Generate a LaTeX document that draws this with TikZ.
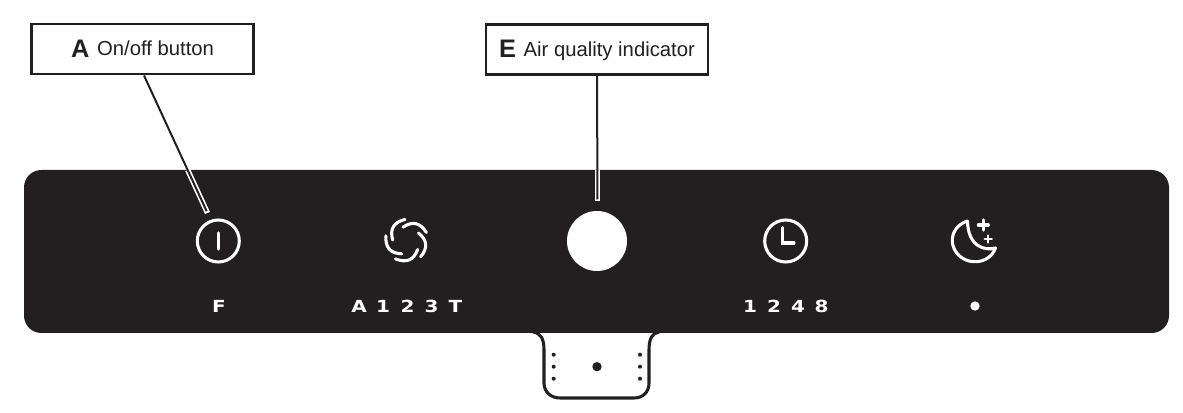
\documentclass[tikz,border=0pt]{standalone}
\usepackage{fontspec}
\setmainfont{Liberation Sans}
\newfontfamily\panelfont[FakeStretch=1.2]{DejaVu Sans}
\usetikzlibrary{positioning}
\definecolor{panelblack}{HTML}{231F20}
\newcommand{\calloutkey}[1]{\raisebox{-1.2pt}{\fontsize{19}{20}\selectfont\bfseries #1}\hspace{1.5pt}}

\begin{document}
\begin{tikzpicture}[x=.75pt,y=-.75pt,
	panel/.style={fill=panelblack,rounded corners=13pt},
	callout/.style={draw=panelblack,fill=white,line width=1.9pt,minimum width=166.5pt,minimum height=37.5pt,inner sep=0pt,text height=14pt,text depth=3.8pt,font=\fontsize{15.2}{18}\selectfont,text=panelblack},
	leader/.style={draw=panelblack,line width=1.5pt,shorten >=1.5pt},
	halo/.style={draw=white,line width=4pt},
	icon/.style={draw=white,line width=2.3pt,line cap=round},
	ring/.style={draw=white,line width=2.3pt,circle,minimum size=31.5pt,inner sep=0pt},
	setting/.style={text=white,font=\panelfont\bfseries\fontsize{12.5}{14}\selectfont,inner sep=0pt},
	tabdot/.style={fill=panelblack,circle,inner sep=0pt,minimum size=3pt}]

\useasboundingbox (0,0) rectangle (1183,413);

%-------------------------------------------------------------------------------
% Panel
%-------------------------------------------------------------------------------
\draw [panelblack,line width=2.3pt,fill=white] (533,332) .. controls (541,333) and (544,339) .. (544,350)
	-- (544,383) .. controls (544,392) and (551,398) .. (560,398)
	-- (634,398) .. controls (643,398) and (649,392) .. (649,383)
	-- (649,350) .. controls (649,339) and (652,333) .. (659,332);
\path [panel] (24,170) rectangle (1169,333);

\node (tabl1) [tabdot] at (553.7,354.7) {};
\node (tabl2) [tabdot] at (553.7,366.7) {};
\node (tabl3) [tabdot] at (553.7,378.7) {};
\node (tabr1) [tabdot] at (640,354.7) {};
\node (tabr2) [tabdot] at (640,366.7) {};
\node (tabr3) [tabdot] at (640,378.7) {};
\node (tabmid) [tabdot,minimum size=7pt] at (597,366.7) {};

%-------------------------------------------------------------------------------
% Icons
%-------------------------------------------------------------------------------
\node (power) [ring] at (218.3,241) {};
\draw [icon] (218.3,233) -- (218.3,249);

\begin{scope}[shift={(406.7,240.7)}]
	\draw [icon] (-1.7,-21.3) .. controls (-13.1,-18.4) and (-17.2,-11.6) .. (-14,-.7);
	\draw [icon] (19.7,-8.2) .. controls (13.5,-18.2) and (5.7,-19.9) .. (-3.7,-13.5);
	\draw [icon] (13.9,16.2) .. controls (21.4,7.2) and (20.7,-.7) .. (11.7,-7.7);
	\draw [icon] (-11.2,18.2) .. controls (-.2,22.6) and (7.1,19.5) .. (10.9,8.8);
	\draw [icon] (-20.8,-5) .. controls (-21.6,6.8) and (-16.3,12.8) .. (-5,13.1);
\end{scope}

\node (quality) [fill=white,circle,minimum size=45pt,inner sep=0pt] at (597,241) {};

\node (clock) [ring] at (785.7,241) {};
\draw [icon] (782.7,227.3) -- (782.7,243) -- (794,243);

\draw [icon,line join=round] (967.5,221) .. controls (946,228) and (948,255) .. (969,261)
	.. controls (981,264) and (992,258) .. (995.5,248)
	.. controls (985,251) and (968,247) .. (967.5,221);
\draw [icon] (983.3,220) -- (983.3,230);
\draw [icon] (978.3,225) -- (988.3,225);
\draw [icon,line width=1.7pt] (988.3,235.5) -- (988.3,242.5);
\draw [icon,line width=1.7pt] (984.8,239) -- (991.8,239);

%-------------------------------------------------------------------------------
% Settings
%-------------------------------------------------------------------------------
\node (fanf) [setting] at (219,306.5) {F};
\node (fana) [setting] at (359,306.5) {A};
\node (fan1) [setting] at (383,306.5) {1};
\node (fan2) [setting] at (407.5,306.5) {2};
\node (fan3) [setting] at (431.5,306.5) {3};
\node (fant) [setting] at (455.5,306.5) {T};
\node (timer1) [setting] at (750,306.5) {1};
\node (timer2) [setting] at (774,306.5) {2};
\node (timer4) [setting] at (798,306.5) {4};
\node (timer8) [setting] at (821.7,306.5) {8};
\node (nightdot) [fill=white,circle,inner sep=0pt,minimum size=7pt] at (975,306) {};

%-------------------------------------------------------------------------------
% Callouts
%-------------------------------------------------------------------------------
\node (labela) [callout] at (142.6,49.2) {\calloutkey{A} On/off button};
\node (labele) [callout] at (597,49.5) {\calloutkey{E} Air quality indicator};

\coordinate (leadapanel) at (187.7,170);
\coordinate (leadaend) at (207.5,213);
\coordinate (leadepanel) at (597.5,170);
\coordinate (leadeend) at (597.5,201.5);

\draw [halo] (leadapanel) -- (leadaend);
\draw [leader] (labela.south -| 144,0) -- (leadaend);
\draw [halo] (leadepanel) -- (leadeend);
\draw [leader] (labele.south) -- (leadeend);
\end{tikzpicture}
\end{document}
